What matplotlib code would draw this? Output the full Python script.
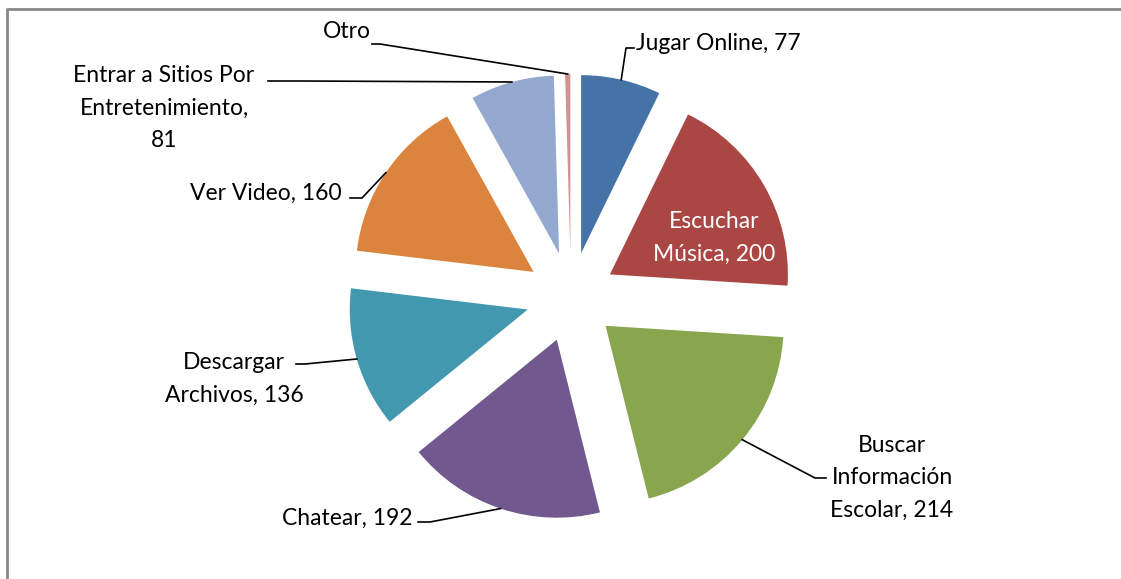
import numpy as np
import matplotlib
matplotlib.use('Agg')
import matplotlib.pyplot as plt

# data
categorias = ['Jugar Online', 'Escuchar\nMúsica', 'Buscar\nInformación\nEscolar', 'Chatear',
              'Descargar\nArchivos', 'Ver Video', 'Entrar a Sitios Por\nEntretenimiento,\n', 'Otro']
valores = [77, 200, 214, 192, 136, 160, 81, 5]
colores = ['#4573A7', '#AA4643', '#89A54E', '#71588F', '#4198AF', '#DB843D', '#93A9CF', '#D19392']

plt.rcParams['font.family'] = ['Lato', 'DejaVu Sans']

W, H = 1121, 579
fig = plt.figure(figsize=(W / 100, H / 100), dpi=100)
ax = fig.add_axes([0, 0, 1, 1])

cx, cy = 571, H - 297
r = 178
expl = 45
fs = 16.5
ls = 1.65

wedges, _ = ax.pie(valores, colors=colores, startangle=90, counterclock=False,
                   center=(cx, cy), radius=r, explode=[expl] * len(valores),
                   wedgeprops=dict(linewidth=0))

ax.set_xlim(0, W)
ax.set_ylim(0, H)
ax.set_aspect('equal')
ax.axis('off')

# text positions (image px): x, y, ha, bend point, end point
lbl = [
    ('Jugar Online, 77', 636, 44, 'left', (626, 48), (634, 48)),
    (None, 714, 238, 'center', None, None),
    ('Buscar\nInformación\nEscolar, 214', 892, 478, 'center', (815, 478), (826, 478)),
    ('Chatear, 192', 413, 518, 'right', (430, 522), (418, 522)),
    ('Descargar\nArchivos, 136', 234, 379, 'center', (305, 364), (296, 364)),
    ('Ver Video, 160', 342, 193, 'right', (362, 198), (350, 198)),
    ('Entrar a Sitios Por\nEntretenimiento,\n81', 164, 108, 'center', (300, 81), (268, 81)),
    ('Otro', 371, 32, 'right', (380, 44), (372, 44)),
]

for i, w in enumerate(wedges):
    txt, tx, ty, ha, bend, end = lbl[i]
    if i == 1:
        ax.text(tx, H - ty, 'Escuchar\nMúsica, %d' % valores[i], ha='center', va='center',
                color='white', fontsize=fs, linespacing=ls)
        continue
    ang = np.deg2rad(0.5 * (w.theta1 + w.theta2))
    x0 = w.center[0] + r * np.cos(ang)
    y0 = w.center[1] + r * np.sin(ang)
    ax.plot([x0, bend[0], end[0]], [y0, H - bend[1], H - end[1]], color='black', lw=1.2)
    ax.text(tx, H - ty, txt, ha=ha, va='center', fontsize=fs, linespacing=ls)

# marco
ax.plot([7, 7, W], [0, H - 9, H - 9], color='#888888', lw=2, clip_on=False)

fig.savefig('out.png', dpi=100)
